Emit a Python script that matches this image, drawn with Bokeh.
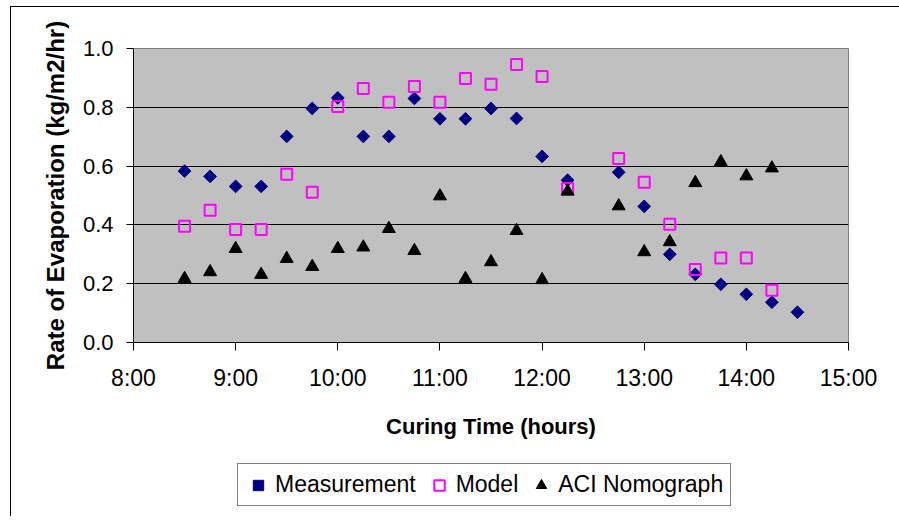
import math
from bokeh.plotting import figure
from bokeh.layouts import column
from bokeh.models import FixedTicker, Legend, LegendItem, Range1d
from bokeh.embed import file_html
from bokeh.resources import INLINE

# ---- data ----
x_ticks = [8, 9, 10, 11, 12, 13, 14, 15]
x_tick_labels = ["8:00", "9:00", "10:00", "11:00", "12:00", "13:00", "14:00", "15:00"]
y_ticks = [0.0, 0.2, 0.4, 0.6, 0.8, 1.0]
y_tick_labels = ["0.0", "0.2", "0.4", "0.6", "0.8", "1.0"]

meas_time = ["8:30", "8:45", "9:00", "9:15", "9:30", "9:45", "10:00", "10:15", "10:30",
             "10:45", "11:00", "11:15", "11:30", "11:45", "12:00", "12:15", "12:45",
             "13:00", "13:15", "13:30", "13:45", "14:00", "14:15", "14:30"]
measurement = [0.583, 0.565, 0.531, 0.531, 0.701, 0.796, 0.832, 0.701, 0.701,
               0.830, 0.761, 0.761, 0.796, 0.762, 0.633, 0.552, 0.579,
               0.463, 0.300, 0.232, 0.198, 0.164, 0.137, 0.103]

model_time = ["8:30", "8:45", "9:00", "9:15", "9:30", "9:45", "10:00", "10:15", "10:30",
              "10:45", "11:00", "11:15", "11:30", "11:45", "12:00", "12:15", "12:45",
              "13:00", "13:15", "13:30", "13:45", "14:00", "14:15"]
model = [0.395, 0.450, 0.384, 0.384, 0.572, 0.511, 0.803, 0.864, 0.817,
         0.871, 0.817, 0.898, 0.878, 0.946, 0.905, 0.524, 0.626,
         0.545, 0.402, 0.248, 0.287, 0.287, 0.178]

aci_time = ["8:30", "8:45", "9:00", "9:15", "9:30", "9:45", "10:00", "10:15", "10:30",
            "10:45", "11:00", "11:15", "11:30", "11:45", "12:00", "12:15", "12:45",
            "13:00", "13:15", "13:30", "13:45", "14:00", "14:15"]
aci = [0.217, 0.240, 0.319, 0.231, 0.285, 0.258, 0.319, 0.324, 0.387,
       0.312, 0.498, 0.217, 0.274, 0.380, 0.213, 0.514, 0.464,
       0.308, 0.342, 0.543, 0.614, 0.566, 0.593]

series_names = ["Measurement", "Model", "ACI Nomograph"]


def to_hours(t):
    h, m = t.split(":")
    return int(h) + int(m) / 60.0


meas_x = [to_hours(t) for t in meas_time]
model_x = [to_hours(t) for t in model_time]
aci_x = [to_hours(t) for t in aci_time]

FONT = "Liberation Sans"
MEAS_STYLE = dict(marker="square", angle=math.pi / 4, size=9,
                  fill_color="#000080", line_color="#000080")
MODEL_STYLE = dict(marker="square", size=11, fill_color=None,
                   line_color="#FF00FF", line_width=2)
ACI_STYLE = dict(marker="triangle", size=13, fill_color="black", line_color="black")

# ---- main chart ----
p = figure(width=888, height=445,
           x_range=(x_ticks[0], x_ticks[-1]),
           y_range=(y_ticks[0], y_ticks[-1]),
           output_backend="svg", toolbar_location=None,
           min_border_left=122, min_border_right=51, min_border_top=41,
           min_border_bottom=110,
           background_fill_color="#C0C0C0", border_fill_color="white",
           outline_line_color="#808080", outline_line_width=1)

p.xaxis.ticker = FixedTicker(ticks=x_ticks)
p.xaxis.major_label_overrides = {t: l for t, l in zip(x_ticks, x_tick_labels)}
p.yaxis.ticker = FixedTicker(ticks=y_ticks)
p.yaxis.major_label_overrides = {t: l for t, l in zip(y_ticks, y_tick_labels)}

for ax in (p.xaxis[0], p.yaxis[0]):
    ax.major_label_text_font = FONT
    ax.axis_label_text_font = FONT
    ax.axis_label_text_font_style = "bold"
    ax.axis_label_text_color = "black"
    ax.major_label_text_color = "black"
    ax.axis_line_color = "black"
    ax.major_tick_line_color = "black"
    ax.major_tick_in = 0
    ax.minor_tick_in = 0
    ax.minor_tick_out = 0

p.xaxis.major_label_text_font_size = "23px"
p.yaxis.major_label_text_font_size = "22px"
p.xaxis.major_tick_out = 8
p.yaxis.major_tick_out = 7
p.xaxis.major_label_standoff = 14
p.yaxis.major_label_standoff = 13

p.xaxis.axis_label = "Curing Time (hours)"
p.xaxis.axis_label_text_font_size = "22px"
p.xaxis.axis_label_standoff = 20
p.yaxis.axis_label = "Rate of Evaporation (kg/m2/hr)"
p.yaxis.axis_label_text_font_size = "24px"
p.yaxis.axis_label_standoff = 11

p.xgrid.visible = False
p.ygrid.ticker = FixedTicker(ticks=y_ticks[1:-1])
p.ygrid.grid_line_color = "black"
p.ygrid.grid_line_width = 1

p.scatter(meas_x, measurement, **MEAS_STYLE)
p.scatter(model_x, model, **MODEL_STYLE)
p.scatter(aci_x, aci, **ACI_STYLE)

# ---- legend strip below the chart (its own ranges keep the series out of view) ----
lg = figure(width=888, height=64, x_range=Range1d(0, 1), y_range=Range1d(0, 1),
            output_backend="svg", toolbar_location=None,
            x_axis_location=None, y_axis_location=None,
            min_border=0, outline_line_color=None,
            background_fill_color="white", border_fill_color="white")
lg.grid.visible = False
k1 = lg.scatter(meas_x, measurement, **MEAS_STYLE)
k2 = lg.scatter(model_x, model, **MODEL_STYLE)
k3 = lg.scatter(aci_x, aci, **ACI_STYLE)

legend = Legend(items=[LegendItem(label=series_names[0], renderers=[k1], index=0),
                       LegendItem(label=series_names[1], renderers=[k2], index=0),
                       LegendItem(label=series_names[2], renderers=[k3], index=0)],
                orientation="horizontal", location=(104, 10),
                label_text_font=FONT, label_text_font_size="23px",
                label_text_color="black",
                glyph_width=26, glyph_height=26, label_standoff=4, spacing=10,
                padding=7, margin=0, border_line_color="black", border_line_width=1,
                background_fill_color="white", background_fill_alpha=1)
lg.add_layout(legend)

layout = column(p, lg, spacing=0)
layout.styles = {"border-left": "1px solid black", "border-top": "1px solid black",
                 "margin-left": "10px", "margin-top": "6px"}

open("out.html", "w").write(file_html(layout, INLINE))
